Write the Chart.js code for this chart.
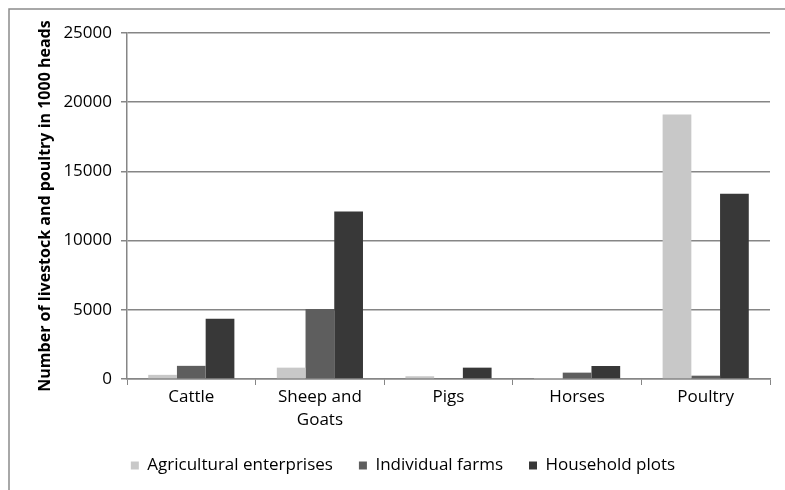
<!DOCTYPE html>
<html><head><meta charset="utf-8">
<script src="https://cdn.jsdelivr.net/npm/chart.js@4"></script>
<style>html,body{margin:0;padding:0;background:#fff}#wrap{width:785px;height:490px}</style>
</head><body><div id="wrap"><canvas id="c" width="785" height="490"></canvas></div>
<script>
const categories = [["Cattle"], ["Sheep and", "Goats"], ["Pigs"], ["Horses"], ["Poultry"]];
const seriesNames = ["Agricultural enterprises", "Individual farms", "Household plots"];
const agricultural = [300, 820, 200, 20, 19110];
const individual = [950, 5050, 70, 460, 240];
const household = [4350, 12100, 820, 940, 13380];
const yTicks = [0, 5000, 10000, 15000, 20000, 25000];
const colors = ["#c8c8c8", "#5e5e5e", "#383838"];
const FONT = "'Open Sans', sans-serif";

const framePlugin = {
  id: 'frame',
  beforeDraw(chart) {
    const ctx = chart.ctx;
    ctx.save();
    ctx.fillStyle = '#fff';
    ctx.fillRect(0, 0, chart.width, chart.height);
    ctx.strokeStyle = '#8c8c8c';
    ctx.lineWidth = 1.5;
    ctx.beginPath();
    ctx.moveTo(9, 490);
    ctx.lineTo(9, 9);
    ctx.lineTo(785, 9);
    ctx.stroke();
    ctx.restore();
  }
};

new Chart(document.getElementById('c'), {
  type: 'bar',
  data: {
    labels: categories,
    datasets: [
      { label: seriesNames[0], data: agricultural, backgroundColor: colors[0] },
      { label: seriesNames[1], data: individual, backgroundColor: colors[1] },
      { label: seriesNames[2], data: household, backgroundColor: colors[2] }
    ]
  },
  options: {
    responsive: false,
    animation: false,
    devicePixelRatio: 1,
    layout: { padding: { left: 36, right: 15, top: 33, bottom: 6 } },
    datasets: { bar: { categoryPercentage: 0.67, barPercentage: 1.0 } },
    plugins: {
      legend: {
        position: 'bottom',
        labels: {
          boxWidth: 8, boxHeight: 8, padding: 26,
          color: '#000',
          font: { family: FONT, size: 17 }
        }
      },
      tooltip: { enabled: false }
    },
    scales: {
      x: {
        offset: true,
        grid: { offset: true, drawOnChartArea: false, drawTicks: true, tickLength: 6, color: '#868686' },
        border: { color: '#868686', width: 1.5 },
        ticks: { color: '#000', font: { family: FONT, size: 17, lineHeight: 1.35 }, padding: 1, maxRotation: 0 },
        afterFit(scale) { scale.height = 52; }
      },
      y: {
        min: 0, max: 25000,
        afterBuildTicks(scale) { scale.ticks = yTicks.map(v => ({ value: v })); },
        grid: { color: '#868686', lineWidth: 1.5, tickLength: 6 },
        border: { color: '#868686', width: 1.5 },
        ticks: { color: '#000', font: { family: FONT, size: 17 }, padding: 9, callback: v => String(v) },
        title: {
          display: true,
          text: 'Number of livestock and poultry in 1000 heads',
          color: '#000',
          font: { family: FONT, size: 16, weight: 'bold' },
          padding: { top: 0, bottom: 4 }
        },
        afterFit(scale) { scale.width = 91; }
      }
    }
  },
  plugins: [framePlugin]
});
</script>
</body></html>
